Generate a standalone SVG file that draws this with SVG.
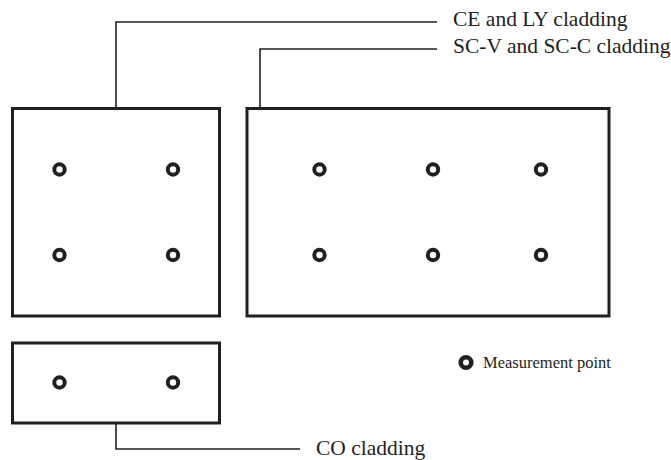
<svg xmlns="http://www.w3.org/2000/svg" width="671" height="460" viewBox="0 0 671 460">
<style>
.panel{fill:#fff;stroke:#231f20;stroke-width:3}
.pt{fill:none;stroke:#231f20;stroke-width:4}
.conn{fill:none;stroke:#231f20;stroke-width:1.6}
.lbl{font-family:"Liberation Serif","Times New Roman",serif;font-size:21.5px;fill:#231f20}
.leg{font-family:"Liberation Serif","Times New Roman",serif;font-size:16.5px;fill:#231f20}
</style>
<rect width="671" height="460" fill="#fff"/>
<g id="connectors">
<polyline class="conn" points="116,108 116,22 437,22"/>
<polyline class="conn" points="260,108 260,49 437,49"/>
<polyline class="conn" points="116,423 116,449 300,449"/>
</g>
<g id="panel-ce-ly">
<rect class="panel" x="12.5" y="108.5" width="207" height="207.5"/>
<circle class="pt" cx="59.5" cy="169.5" r="5.2"/>
<circle class="pt" cx="173" cy="169.5" r="5.2"/>
<circle class="pt" cx="59.5" cy="255" r="5.2"/>
<circle class="pt" cx="173" cy="255" r="5.2"/>
</g>
<g id="panel-sc">
<rect class="panel" x="247" y="108.5" width="362" height="207.5"/>
<circle class="pt" cx="319.5" cy="169.5" r="5.2"/>
<circle class="pt" cx="433" cy="169.5" r="5.2"/>
<circle class="pt" cx="541" cy="169.5" r="5.2"/>
<circle class="pt" cx="319.5" cy="255" r="5.2"/>
<circle class="pt" cx="433" cy="255" r="5.2"/>
<circle class="pt" cx="541" cy="255" r="5.2"/>
</g>
<g id="panel-co">
<rect class="panel" x="12.5" y="343" width="207" height="80"/>
<circle class="pt" cx="59.5" cy="382.5" r="5.2"/>
<circle class="pt" cx="173" cy="382.5" r="5.2"/>
</g>
<g id="label-ce-ly"><text class="lbl" x="453" y="26">CE and LY cladding</text></g>
<g id="label-sc"><text class="lbl" x="453" y="53">SC-V and SC-C cladding</text></g>
<g id="label-co"><text class="lbl" x="316" y="455">CO cladding</text></g>
<g id="legend">
<circle cx="466" cy="362.5" r="5.3" fill="none" stroke="#231f20" stroke-width="4.6"/>
<text class="leg" x="483" y="368">Measurement point</text>
</g>
</svg>
